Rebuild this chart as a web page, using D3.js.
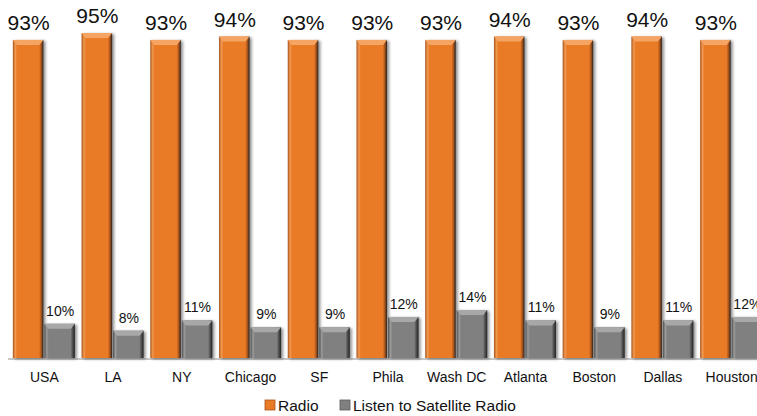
<!DOCTYPE html>
<html>
<head>
<meta charset="utf-8">
<script src="https://cdn.jsdelivr.net/npm/d3@7"></script>
<style>
  body { margin: 0; background: #fff; }
  svg { display: block; font-family: Arial, "Liberation Sans", sans-serif; }
</style>
</head>
<body>
<svg id="chart"></svg>
<script>
// chart data
let cities = ['USA', 'LA', 'NY', 'Chicago', 'SF', 'Phila', 'Wash DC', 'Atlanta', 'Boston', 'Dallas', 'Houston'];
let radio = [93, 95, 93, 94, 93, 93, 93, 94, 93, 94, 93];
let satellite = [10, 8, 11, 9, 9, 12, 14, 11, 9, 11, 12];
let seriesNames = ['Radio', 'Listen to Satellite Radio'];

let canvas = { width: 757, height: 416 };
let baseY = 358;

let svg = d3.select('#chart')
  .attr('width', canvas.width)
  .attr('height', canvas.height);

let defs = svg.append('defs');

// drop shadow for the bars
let shadow = defs.append('filter').attr('id', 'shadow')
  .attr('x', '-20%').attr('y', '-10%').attr('width', '150%').attr('height', '130%');
shadow.append('feDropShadow')
  .attr('dx', 2).attr('dy', 1).attr('stdDeviation', 1.6)
  .attr('flood-color', '#000').attr('flood-opacity', 0.45);

// side gradients to give a bevelled look
function sideGradient(id, dark, mid, light) {
  let g = defs.append('linearGradient').attr('id', id)
    .attr('x1', 0).attr('x2', 1).attr('y1', 0).attr('y2', 0);
  g.append('stop').attr('offset', '0%').attr('stop-color', dark);
  g.append('stop').attr('offset', '8%').attr('stop-color', light);
  g.append('stop').attr('offset', '14%').attr('stop-color', mid);
  g.append('stop').attr('offset', '86%').attr('stop-color', mid);
  g.append('stop').attr('offset', '93%').attr('stop-color', dark);
  g.append('stop').attr('offset', '100%').attr('stop-color', '#222');
}
sideGradient('gOrange', '#a9531a', '#e97a26', '#f19a52');
sideGradient('gGray', '#4d4d4d', '#808080', '#9c9c9c');

let colors = [
  { fill: 'url(#gOrange)', top: '#f5a463', flat: '#e97a26' },
  { fill: 'url(#gGray)', top: '#a8a8a8', flat: '#808080' }
];

// scales
let xScale = d3.scaleBand()
  .domain(cities)
  .range([10, 766])
  .paddingInner(0.083)
  .paddingOuter(0.0415);

let xInner = d3.scaleBand()
  .domain([0, 1])
  .range([0, xScale.bandwidth()]);

let yScale = d3.scaleLinear()
  .domain([0, 100])
  .range([baseY, baseY - 342]);

// baseline
svg.append('line')
  .attr('x1', 8).attr('x2', canvas.width)
  .attr('y1', baseY + 1).attr('y2', baseY + 1)
  .attr('stroke', '#c8c8c8').attr('stroke-width', 2);

let rows = cities.map((c, i) => ({ city: c, vals: [radio[i], satellite[i]] }));

let groups = svg.selectAll('.group')
  .data(rows)
  .enter()
  .append('g')
  .attr('class', 'group')
  .attr('transform', d => 'translate(' + xScale(d.city) + ',0)');

let bars = groups.selectAll('.bar')
  .data(d => d.vals.map((v, k) => ({ v: v, k: k })))
  .enter()
  .append('g')
  .attr('class', 'bar');

bars.append('rect')
  .attr('x', d => xInner(d.k))
  .attr('y', d => yScale(d.v))
  .attr('width', xInner.bandwidth() - 1)
  .attr('height', d => baseY - yScale(d.v))
  .attr('fill', d => colors[d.k].fill)
  .attr('filter', 'url(#shadow)');

// top bevel
bars.append('path')
  .attr('d', d => {
    let x0 = xInner(d.k), x1 = x0 + xInner.bandwidth() - 1, y0 = yScale(d.v);
    return 'M' + x0 + ',' + y0 + 'L' + x1 + ',' + y0 +
      'L' + (x1 - 4) + ',' + (y0 + 5) + 'L' + (x0 + 4) + ',' + (y0 + 5) + 'Z';
  })
  .attr('fill', d => colors[d.k].top);

// value labels
bars.append('text')
  .attr('x', d => xInner(d.k) + xInner.bandwidth() / 2)
  .attr('y', d => yScale(d.v) - (d.k === 0 ? 10 : 8))
  .attr('text-anchor', 'middle')
  .attr('font-size', d => d.k === 0 ? 21 : 14)
  .attr('fill', '#111')
  .text(d => d.v + '%');

// category labels
svg.selectAll('.cat')
  .data(cities)
  .enter()
  .append('text')
  .attr('class', 'cat')
  .attr('x', d => xScale(d) + xScale.bandwidth() / 2)
  .attr('y', 382)
  .attr('text-anchor', 'middle')
  .attr('font-size', 14)
  .attr('fill', '#111')
  .text(d => d);

// legend
let legendX = [265, 340];
let legend = svg.selectAll('.legend')
  .data(seriesNames)
  .enter()
  .append('g')
  .attr('class', 'legend')
  .attr('transform', (d, i) => 'translate(' + legendX[i] + ',400)');

legend.append('rect')
  .attr('width', 10).attr('height', 10)
  .attr('fill', (d, i) => colors[i].flat)
  .attr('stroke', (d, i) => i === 0 ? '#a9531a' : '#5a5a5a')
  .attr('stroke-width', 0.8);

legend.append('text')
  .attr('x', 13).attr('y', 10.5)
  .attr('font-size', 15.5)
  .attr('fill', '#111')
  .text(d => d);
</script>
</body>
</html>
